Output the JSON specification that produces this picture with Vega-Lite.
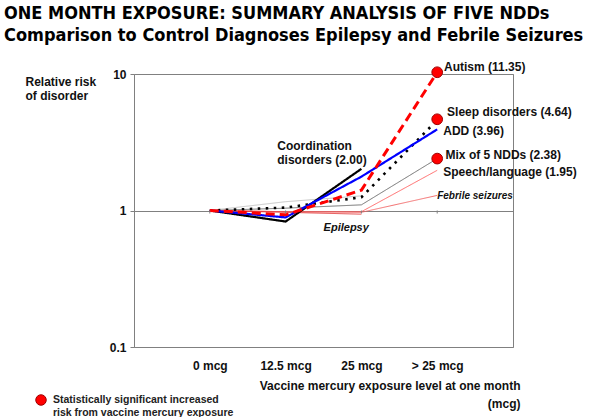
{
  "$schema": "https://vega.github.io/schema/vega-lite/v6.json",
  "width": 379,
  "height": 273,
  "autosize": "none",
  "padding": {"left": 134, "top": 74, "right": 86, "bottom": 70},
  "background": "white",
  "title": {
    "text": ["ONE MONTH EXPOSURE: SUMMARY ANALYSIS OF FIVE NDDs", "Comparison to Control Diagnoses Epilepsy and Febrile Seizures"],
    "anchor": "start",
    "frame": "group",
    "dx": -130,
    "offset": 16,
    "font": "DejaVu Sans Condensed",
    "fontWeight": "bold",
    "fontSize": 18,
    "lineHeight": 22,
    "color": "#000000"
  },
  "config": {
    "view": {"stroke": "#808080", "strokeWidth": 1},
    "font": "Liberation Sans"
  },
  "datasets": {
    "lines": [
      {"series": "Unlabeled", "dose": 1, "rr": 1.0},
      {"series": "Unlabeled", "dose": 2, "rr": 1.16},
      {"series": "Unlabeled", "dose": 3, "rr": 1.28},
      {"series": "Mix of 5 NDDs", "dose": 1, "rr": 1.0},
      {"series": "Mix of 5 NDDs", "dose": 2, "rr": 1.04},
      {"series": "Mix of 5 NDDs", "dose": 3, "rr": 1.1},
      {"series": "Mix of 5 NDDs", "dose": 4, "rr": 2.4},
      {"series": "Speech/language", "dose": 1, "rr": 1.0},
      {"series": "Speech/language", "dose": 2, "rr": 0.98},
      {"series": "Speech/language", "dose": 3, "rr": 0.98},
      {"series": "Speech/language", "dose": 4, "rr": 1.97},
      {"series": "Febrile seizures", "dose": 1, "rr": 1.0},
      {"series": "Febrile seizures", "dose": 2, "rr": 0.98},
      {"series": "Febrile seizures", "dose": 3, "rr": 0.97},
      {"series": "Febrile seizures", "dose": 4, "rr": 1.29},
      {"series": "Epilepsy", "dose": 1, "rr": 1.0},
      {"series": "Epilepsy", "dose": 2, "rr": 0.97},
      {"series": "Epilepsy", "dose": 3, "rr": 0.94},
      {"series": "Sleep disorders", "dose": 1, "rr": 1.0},
      {"series": "Sleep disorders", "dose": 2, "rr": 1.05},
      {"series": "Sleep disorders", "dose": 3, "rr": 1.25},
      {"series": "Sleep disorders", "dose": 4, "rr": 4.6},
      {"series": "Coordination disorders", "dose": 1, "rr": 1.0},
      {"series": "Coordination disorders", "dose": 2, "rr": 0.83},
      {"series": "Coordination disorders", "dose": 3, "rr": 2.02},
      {"series": "ADD", "dose": 1, "rr": 1.0},
      {"series": "ADD", "dose": 2, "rr": 0.89},
      {"series": "ADD", "dose": 3, "rr": 1.77},
      {"series": "ADD", "dose": 4, "rr": 3.93},
      {"series": "Autism", "dose": 1, "rr": 1.0},
      {"series": "Autism", "dose": 2, "rr": 0.93},
      {"series": "Autism", "dose": 3, "rr": 1.41},
      {"series": "Autism", "dose": 4, "rr": 10.3}
    ],
    "dots": [
      {"series": "Autism", "dose": 4, "rr": 10.3, "sig": "Statistically significant increased|risk from vaccine mercury exposure"},
      {"series": "Sleep disorders", "dose": 4, "rr": 4.66, "sig": "Statistically significant increased|risk from vaccine mercury exposure"},
      {"series": "Mix of 5 NDDs", "dose": 4, "rr": 2.4, "sig": "Statistically significant increased|risk from vaccine mercury exposure"}
    ],
    "labels": [
      {"label": "Autism (11.35)", "dose": 4.09, "rr": 11.3},
      {"label": "Sleep disorders (4.64)", "dose": 4.13, "rr": 5.27},
      {"label": "ADD (3.96)", "dose": 4.08, "rr": 3.85},
      {"label": "Mix of 5 NDDs (2.38)", "dose": 4.11, "rr": 2.55},
      {"label": "Speech/language (1.95)", "dose": 4.08, "rr": 1.93},
      {"label": "Coordination\ndisorders (2.00)", "dose": 1.89, "rr": 2.97}
    ],
    "italic": [
      {"label": "Febrile seizures", "dose": 4.0, "rr": 1.27, "size": "small"},
      {"label": "Epilepsy", "dose": 2.8, "rr": 0.744, "size": "large"}
    ]
  },
  "layer": [
    {
      "data": {"name": "lines"},
      "mark": {"type": "line", "strokeCap": "butt"},
      "encoding": {
        "x": {
          "field": "dose",
          "type": "quantitative",
          "scale": {"domain": [0, 5], "nice": false, "zero": false},
          "axis": {
            "values": [1, 2, 3, 4],
            "labelExpr": "datum.value == 1 ? '0 mcg' : datum.value == 2 ? '12.5 mcg' : datum.value == 3 ? '25 mcg' : '> 25 mcg'",
            "ticks": false,
            "grid": false,
            "domain": false,
            "labelPadding": 13,
            "labelFont": "Liberation Sans",
            "labelFontWeight": "bold",
            "labelFontSize": 12,
            "labelColor": "#111111",
            "labelFlush": false,
            "title": ["Vaccine mercury exposure level at one month", "(mcg)"],
            "titleFont": "Liberation Sans",
            "titleFontWeight": "bold",
            "titleFontSize": 12,
            "titleColor": "#111111",
            "titleAlign": "right",
            "titleAnchor": "start",
            "titleBaseline": "top",
            "titleX": 386,
            "titleY": 33,
            "titleLineHeight": 18
          }
        },
        "y": {
          "field": "rr",
          "type": "quantitative",
          "scale": {"type": "log", "domain": [0.1, 10], "nice": false},
          "axis": {
            "values": [0.1, 1, 10],
            "format": "~g",
            "grid": true,
            "gridColor": "#808080",
            "gridWidth": 1,
            "gridOpacity": 1,
            "domain": false,
            "tickColor": "#808080",
            "tickSize": 4,
            "labelPadding": 4,
            "labelFont": "Liberation Sans",
            "labelFontWeight": "bold",
            "labelFontSize": 12,
            "labelColor": "#111111",
            "title": ["Relative risk", "of disorder"],
            "titleFont": "Liberation Sans",
            "titleFontWeight": "bold",
            "titleFontSize": 12,
            "titleColor": "#111111",
            "titleAngle": 0,
            "titleAlign": "left",
            "titleAnchor": "start",
            "titleBaseline": "top",
            "titleX": -109,
            "titleY": 2,
            "titleLineHeight": 14
          }
        },
        "detail": {"field": "series"},
        "color": {
          "field": "series",
          "type": "nominal",
          "legend": null,
          "scale": {
            "domain": ["Unlabeled", "Mix of 5 NDDs", "Speech/language", "Febrile seizures", "Epilepsy", "Sleep disorders", "Coordination disorders", "ADD", "Autism"],
            "range": ["#c4c4c4", "#707070", "#ff5a5a", "#f06060", "#e03030", "#000000", "#000000", "#0000ff", "#ff0000"]
          }
        },
        "strokeDash": {
          "field": "series",
          "type": "nominal",
          "legend": null,
          "scale": {
            "domain": ["Unlabeled", "Mix of 5 NDDs", "Speech/language", "Febrile seizures", "Epilepsy", "Sleep disorders", "Coordination disorders", "ADD", "Autism"],
            "range": [[1, 0], [1, 0], [1, 0], [1, 0], [1, 0], [2.5, 5.5], [1, 0], [1, 0], [9, 5]]
          }
        },
        "strokeWidth": {
          "field": "series",
          "type": "ordinal",
          "legend": null,
          "scale": {
            "type": "ordinal",
            "domain": ["Unlabeled", "Mix of 5 NDDs", "Speech/language", "Febrile seizures", "Epilepsy", "Sleep disorders", "Coordination disorders", "ADD", "Autism"],
            "range": [1, 1, 0.9, 0.9, 0.9, 2.6, 2.2, 2.2, 3]
          }
        },
        "order": {"field": "dose"}
      }
    },
    {
      "data": {"values": [{"dose": 1}, {"dose": 2}, {"dose": 3}, {"dose": 4}]},
      "mark": {"type": "rule", "color": "#808080", "strokeWidth": 1},
      "encoding": {
        "x": {"field": "dose", "type": "quantitative"},
        "y": {"datum": 1},
        "y2": {"datum": 0.95}
      }
    },
    {
      "data": {"name": "dots"},
      "mark": {"type": "point", "filled": true, "shape": "circle", "size": 115, "stroke": "#a00000", "strokeWidth": 1, "opacity": 1},
      "encoding": {
        "x": {"field": "dose", "type": "quantitative"},
        "y": {"field": "rr", "type": "quantitative"},
        "fill": {
          "field": "sig",
          "type": "nominal",
          "scale": {"range": ["#ff0000"]},
          "legend": {
            "orient": "none",
            "legendX": -99,
            "legendY": 320,
            "title": null,
            "symbolType": "circle",
            "symbolSize": 110,
            "symbolStrokeColor": "#a00000",
            "symbolStrokeWidth": 1,
            "symbolFillColor": "#ff0000",
            "labelExpr": "split(datum.label, '|')",
            "labelFont": "Liberation Sans",
            "labelFontWeight": "bold",
            "labelFontSize": 10.5,
            "labelColor": "#222222",
            "labelOffset": 6,
            "labelLimit": 300,
            "labelBaseline": "middle",
            "padding": 0
          }
        }
      }
    },
    {
      "data": {"name": "labels"},
      "mark": {"type": "text", "align": "left", "baseline": "middle", "font": "Liberation Sans", "fontWeight": "bold", "fontSize": 12, "color": "#111111", "lineBreak": "\n", "lineHeight": 14},
      "encoding": {
        "x": {"field": "dose", "type": "quantitative"},
        "y": {"field": "rr", "type": "quantitative"},
        "text": {"field": "label"}
      }
    },
    {
      "data": {"name": "italic"},
      "transform": [{"filter": "datum.size == 'small'"}],
      "mark": {"type": "text", "align": "left", "baseline": "middle", "font": "Liberation Sans", "fontWeight": "bold", "fontStyle": "italic", "fontSize": 10, "color": "#111111"},
      "encoding": {
        "x": {"field": "dose", "type": "quantitative"},
        "y": {"field": "rr", "type": "quantitative"},
        "text": {"field": "label"}
      }
    },
    {
      "data": {"name": "italic"},
      "transform": [{"filter": "datum.size == 'large'"}],
      "mark": {"type": "text", "align": "center", "baseline": "middle", "font": "Liberation Sans", "fontWeight": "bold", "fontStyle": "italic", "fontSize": 11, "color": "#111111"},
      "encoding": {
        "x": {"field": "dose", "type": "quantitative"},
        "y": {"field": "rr", "type": "quantitative"},
        "text": {"field": "label"}
      }
    }
  ]
}
